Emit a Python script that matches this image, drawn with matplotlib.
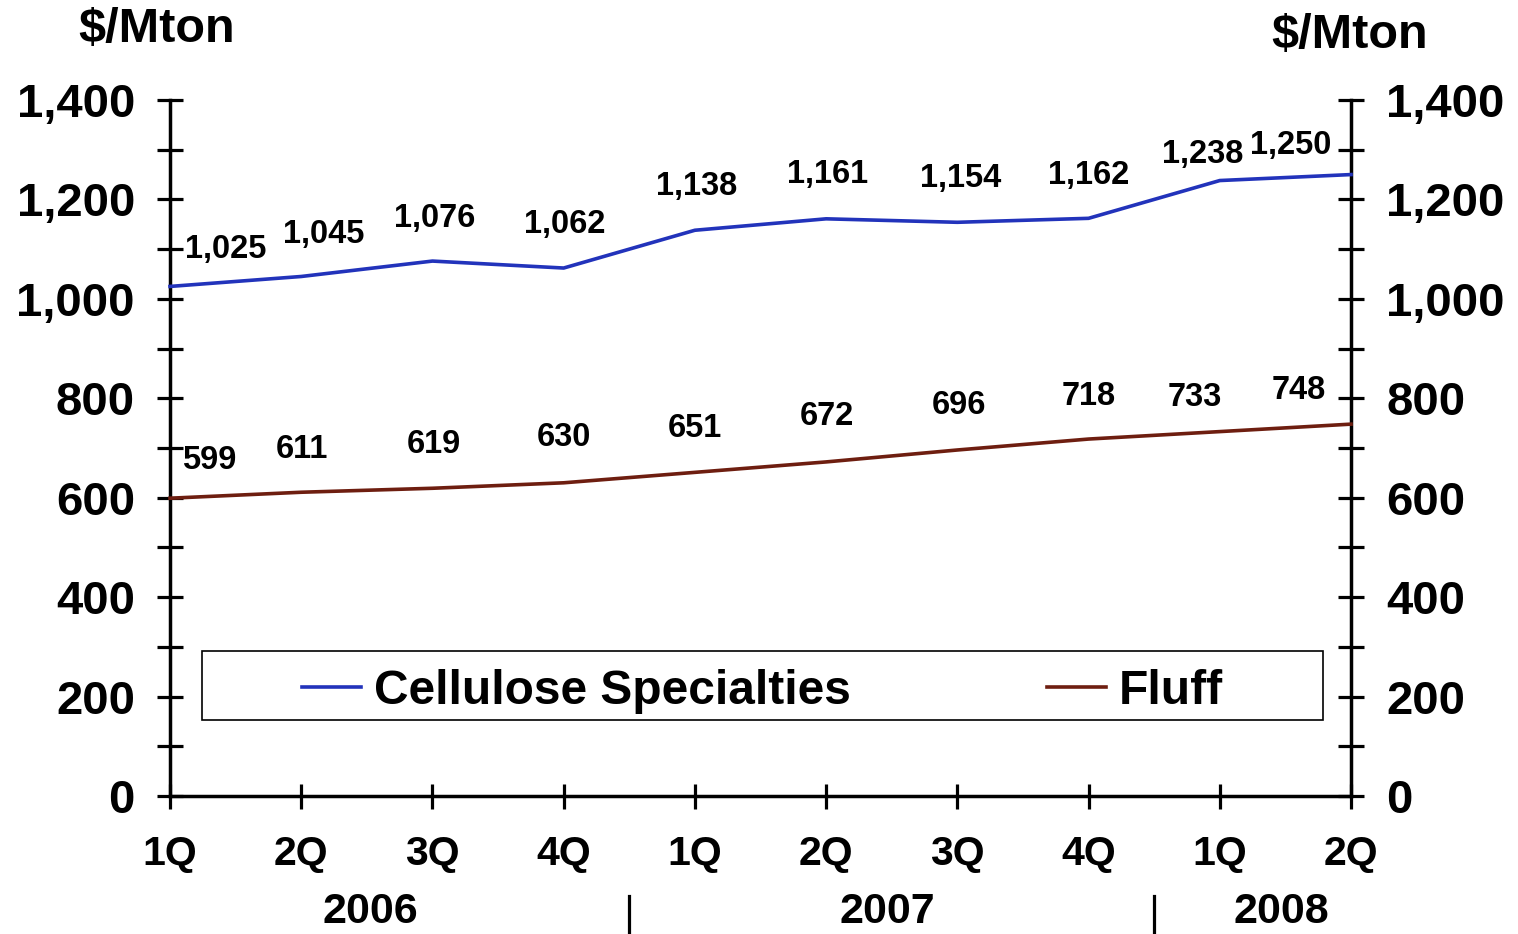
import matplotlib
matplotlib.use("Agg")
import matplotlib.pyplot as plt
from matplotlib.patches import Rectangle
from matplotlib.transforms import blended_transform_factory
import numpy as np

plt.rcParams['font.family'] = ['Liberation Sans', 'DejaVu Sans']
plt.rcParams['font.weight'] = 'bold'

quarters = ["1Q", "2Q", "3Q", "4Q", "1Q", "2Q", "3Q", "4Q", "1Q", "2Q"]
years = ["2006", "2007", "2008"]
cellulose = [1025, 1045, 1076, 1062, 1138, 1161, 1154, 1162, 1238, 1250]
fluff = [599, 611, 619, 630, 651, 672, 696, 718, 733, 748]
yticks = [0, 200, 400, 600, 800, 1000, 1200, 1400]

# label offsets in pixels (dx, dy)
cell_off = [(56, 37), (22, 42), (2, 43), (1, 44), (2, 44), (1, 44), (3, 44), (0, 43), (-17, 26), (-60, 29)]
fluff_off = [(39, 38), (1, 43), (1, 44), (0, 45), (0, 44), (1, 45), (2, 44), (0, 43), (-25, 34), (-52, 34)]

W, H = 1518, 934
fig = plt.figure(figsize=(W / 100, H / 100), dpi=100)
ax = fig.add_axes([170 / W, 1 - 796 / H, (1351 - 170) / W, (796 - 100) / H])

x = np.arange(len(quarters))
blue = "#2233bb"
brown = "#6e1e10"
ax.plot(x, cellulose, color=blue, lw=2.6, label="Cellulose Specialties", clip_on=False, zorder=3)
ax.plot(x, fluff, color=brown, lw=2.6, label="Fluff", clip_on=False, zorder=3)

px2pt = 0.72
for xi, v, (dx, dy) in zip(x, cellulose, cell_off):
    ax.annotate(f"{v:,}", (xi, v), xytext=(dx * px2pt, dy * px2pt), textcoords="offset points",
                ha="center", va="center", fontsize=23.5, fontweight="bold")
for xi, v, (dx, dy) in zip(x, fluff, fluff_off):
    ax.annotate(f"{v:,}", (xi, v), xytext=(dx * px2pt, dy * px2pt), textcoords="offset points",
                ha="center", va="center", fontsize=23.5, fontweight="bold")

ax.set_xlim(0, len(quarters) - 1)
ax.set_ylim(0, 1400)
ax.set_xticks(x)
ax.set_xticklabels(quarters)
ax.set_yticks(yticks)
ax.set_yticklabels([f"{t:,}" for t in yticks])
ax.set_yticks(np.arange(100, 1400, 200), minor=True)

ax.spines['top'].set_visible(False)
for s in ['left', 'right', 'bottom']:
    ax.spines[s].set_linewidth(2.5)
ax.tick_params(axis='y', which='both', direction='inout', length=18.5, width=2.3,
               left=True, right=True, labelleft=True, labelright=True, labelsize=34, pad=16)
ax.tick_params(axis='x', which='both', direction='inout', length=18, width=2.3,
               labelsize=29.5, pad=19)
for lab in ax.get_xticklabels() + ax.get_yticklabels():
    lab.set_fontweight('bold')

# year labels and separators
tr = blended_transform_factory(ax.transData, fig.transFigure)
for xp, yr in zip([1.53, 5.47, 8.47], years):
    ax.text(xp, 1 - 912 / H, yr, transform=tr, ha="center", va="center",
            fontsize=31, fontweight="bold")
for xs in [3.5, 7.5]:
    ax.plot([xs, xs], [1 - 896 / H, 1 - 933 / H], transform=tr, color="black",
            lw=2.3, clip_on=False)

# legend
rect = Rectangle((202 / W, 1 - 720 / H), (1323 - 202) / W, (720 - 651) / H,
                 transform=fig.transFigure, fill=False, edgecolor="black", lw=1.2, zorder=4)
fig.add_artist(rect)
leg = ax.legend(loc="center", bbox_to_anchor=((202 + 1323) / 2 / W, 1 - 691 / H),
                bbox_transform=fig.transFigure, ncol=2, frameon=False,
                prop={'size': 34.5, 'weight': 'bold'}, handlelength=1.22,
                handletextpad=0.27, columnspacing=4.1, borderpad=0)

fig.text(157 / W, 1 - 30 / H, "$/Mton", ha="center", va="center", fontsize=35, fontweight="bold")
fig.text(1350 / W, 1 - 35 / H, "$/Mton", ha="center", va="center", fontsize=35, fontweight="bold")

fig.savefig("out.png", dpi=100)
